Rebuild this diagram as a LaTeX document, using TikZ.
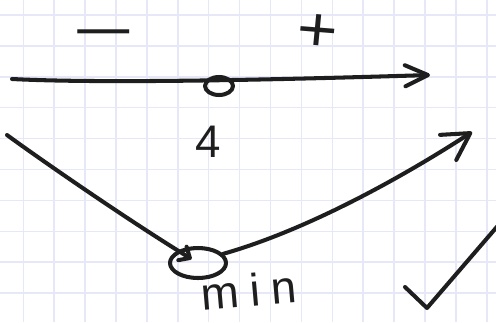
\documentclass[tikz,border=0pt]{standalone}
\usepackage{fontspec}
\setmainfont{Liberation Sans}
\usetikzlibrary{arrows.meta,shapes.geometric}
\definecolor{gridcol}{RGB}{230,231,247}
\definecolor{ink}{RGB}{30,30,30}
\begin{document}
\begin{tikzpicture}[x=0.02cm, y=-0.02cm,
    pen/.style={ink, line width=2.3pt, line cap=round, line join=round},
    gridline/.style={gridcol, line width=0.9pt},
    bigbarb/.style={-{Straight Barb[round, length=15pt, width=17pt]}},
    axisbarb/.style={-{Straight Barb[round, length=13pt, width=12pt]}},
    smallbarb/.style={-{Straight Barb[round, length=5pt, width=9pt]}},
    hand/.style={ink, inner sep=0pt}]
    % 1. Khung hình và nền
    \useasboundingbox (0,0) rectangle (496,322);
    \clip (0,0) rectangle (496,322);
    \fill[white] (0,0) rectangle (496,322);

    % 2. Lưới ô vuông
    \foreach \gx in {0,...,15}
        \draw[gridline] ({23.3+30.9*\gx},0) -- ++(0,322);
    \foreach \gy in {0,...,9}
        \draw[gridline] (0,{15+30.9*\gy}) -- ++(496,0);

    % 3. Dấu trên trục
    \node[hand, scale=3.2, xscale=1.9] (minus) at (104,40) {−};
    \node[hand, scale=3.6, xscale=1.1, rotate=-5] (plus) at (317,33) {+};

    % 4. Trục số và điểm tới hạn
    \coordinate (axL) at (12,79);
    \coordinate (axR) at (430,75);
    \draw[pen, axisbarb] (axL) .. controls (110,84) and (300,79) .. (axR);
    \node[pen, draw, ellipse, minimum width=0.56cm, minimum height=0.36cm,
        inner sep=0pt] (crit) at (219,86) {};
    \node[hand, scale=2.6] (four) at (208,142) {4};

    % 5. Đồ thị: giảm rồi tăng
    \node[pen, draw, ellipse, minimum width=1.12cm, minimum height=0.6cm,
        inner sep=0pt] (minpt) at (198,263) {};
    \coordinate (dL) at (7,135);
    \coordinate (cR) at (472,132);
    \draw[pen, smallbarb, shorten >=0.15cm] (dL) .. controls (30,152) and (120,215) .. (minpt.center);
    \draw[pen, bigbarb] (minpt.20) .. controls (300,232) and (390,185) .. (cR);
    \node[hand, scale=2.6, rotate=5] (minlbl) at (249,290)
        {\addfontfeatures{LetterSpace=24}min};

    % 6. Dấu kiểm
    \draw[pen] (405,287) -- (427,308) -- (520,200);
\end{tikzpicture}
\end{document}
